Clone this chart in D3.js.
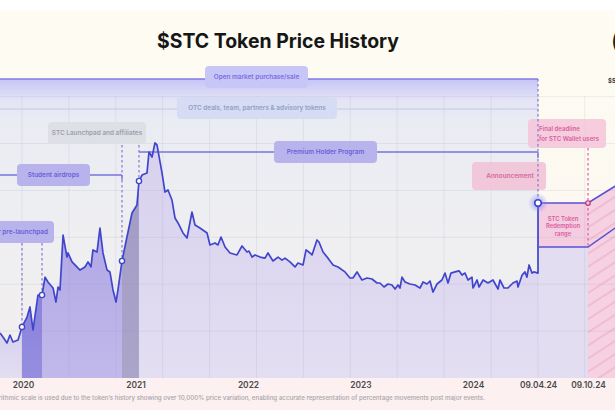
<!DOCTYPE html>
<html><head><meta charset="utf-8">
<script src="https://cdn.jsdelivr.net/npm/d3@7"></script>
<style>
html,body{margin:0;padding:0;background:#fff;overflow:hidden;}
svg{display:block;font-family:Inter,"Open Sans",sans-serif;}
</style></head>
<body><svg id="c" width="615" height="410"></svg>
<script>
// ---------------- DATA ----------------
const priceTimes = [
 2019.796,2019.822,2019.858,2019.884,2019.911,2019.956,2019.991,2020.036,2020.062,2020.089,
 2020.133,2020.169,2020.196,2020.222,2020.267,2020.293,2020.311,2020.329,2020.356,2020.391,
 2020.400,2020.436,2020.507,2020.551,2020.578,2020.604,2020.622,2020.658,2020.684,2020.711,
 2020.747,2020.773,2020.800,2020.827,2020.844,2020.880,2020.924,2020.969,2021.013,2021.031,
 2021.058,2021.102,2021.120,2021.147,2021.173,2021.191,2021.236,2021.262,2021.289,2021.324,
 2021.351,2021.378,2021.422,2021.458,2021.502,2021.529,2021.573,2021.636,2021.662,2021.707,
 2021.733,2021.760,2021.796,2021.840,2021.902,2021.947,2021.991,2022.009,2022.036,2022.062,
 2022.107,2022.151,2022.178,2022.222,2022.267,2022.302,2022.329,2022.373,2022.418,2022.444,
 2022.489,2022.516,2022.551,2022.569,2022.613,2022.631,2022.667,2022.711,2022.756,2022.800,
 2022.862,2022.907,2022.933,2022.969,2023.013,2023.058,2023.102,2023.147,2023.173,2023.209,
 2023.244,2023.280,2023.307,2023.333,2023.351,2023.369,2023.396,2023.440,2023.484,2023.529,
 2023.556,2023.591,2023.618,2023.644,2023.680,2023.724,2023.751,2023.778,2023.804,2023.840,
 2023.876,2023.902,2023.929,2023.956,2023.991,2024.000,2024.017,2024.025,2024.042,2024.062,
 2024.083,2024.104,2024.112,2024.129,2024.145,2024.166,2024.183,2024.187,2024.204,2024.216,
 2024.224,2024.233,2024.245,2024.253,2024.270];
const priceValues = [
 0.000282,0.000257,0.000224,0.000269,0.000229,0.000240,0.000324,0.000407,0.000513,0.000302,
 0.000676,0.000676,0.00102,0.000912,0.000794,0.000575,0.000813,0.000759,0.00269,0.00162,
 0.00178,0.00145,0.00120,0.00129,0.00145,0.00129,0.00191,0.00182,0.00316,0.00178,
 0.00120,0.00115,0.000759,0.000575,0.000759,0.00148,0.00257,0.00447,0.00537,0.00933,
 0.0107,0.0112,0.0182,0.0162,0.0224,0.0214,0.0112,0.00724,0.00759,0.00603,
 0.00398,0.00355,0.00282,0.00251,0.00457,0.00339,0.00316,0.00282,0.00214,0.00224,
 0.00214,0.00257,0.00204,0.00178,0.00170,0.00209,0.00182,0.00186,0.00162,0.00170,
 0.00162,0.00158,0.00178,0.00148,0.00162,0.00151,0.00158,0.00145,0.00129,0.00141,
 0.00135,0.00191,0.00178,0.00170,0.00240,0.00229,0.00182,0.00158,0.00135,0.00129,
 0.00115,0.00100,0.00100,0.00115,0.000955,0.00100,0.000977,0.000891,0.000891,0.000813,
 0.000871,0.000851,0.000776,0.000851,0.000794,0.00102,0.000912,0.000871,0.000851,0.000794,
 0.000912,0.000871,0.000933,0.000724,0.000871,0.000955,0.00112,0.000891,0.00112,0.00115,
 0.00118,0.00107,0.00112,0.000955,0.00102,0.000794,0.000955,0.000813,0.000955,0.000891,
 0.000955,0.000776,0.000955,0.000794,0.000794,0.000891,0.000933,0.000813,0.00107,0.00115,
 0.00102,0.00135,0.00112,0.00115,0.00112];
// key events (decimal years): pre-launchpad start/end, launchpad start/end, announcement, final deadline
const eventTimes = [2019.991, 2020.169, 2020.880, 2021.031, 2024.270, 2024.770];
const redemptionTimes = [2024.270, 2024.770, 2025.270];
const redemptionHigh = [0.00562, 0.00562, 0.0115];
const redemptionLow  = [0.00204, 0.00204, 0.00457];
const tickTimes  = [2020, 2021, 2022, 2023, 2024, 2024.270, 2024.770];
const tickLabels = ["2020","2021","2022","2023","2024","09.04.24","09.10.24"];
const phaseNames = ["Open market purchase/sale","OTC deals, team, partners & advisory tokens",
  "STC Launchpad and affiliates","Premium Holder Program","Student airdrops","Investor pre-launchpad"];
const titleText = "$STC Token Price History";
const footnote = "*Logarithmic scale is used due to the token\u2019s history showing over 10,000% price variation, enabling accurate representation of percentage movements post major events.";

// ---------------- SETUP ----------------
const W = 615, H = 410, baseY = 378;
const svg = d3.select("#c");
const defs = svg.append("defs");
const x = d3.scaleLinear().domain([2020, 2024, 2024.270, 2024.770, 2025.270]).range([23, 473, 538, 588, 638]);
const y = d3.scaleLog().domain([1e-4, 1e-1]).range([baseY, 78]);
const pts = priceTimes.map((t, i) => ({t, v: priceValues[i]}));
const red = redemptionTimes.map((t, i) => ({t, hi: redemptionHigh[i], lo: redemptionLow[i]}));

function lg(id, stops) {
  const g = defs.append("linearGradient").attr("id", id).attr("x1", 0).attr("y1", 0).attr("x2", 0).attr("y2", 1);
  stops.forEach(s => g.append("stop").attr("offset", s[0]).attr("stop-color", s[1]));
}
lg("bg", [[0, "#fefcf3"], [0.6, "#fcf8f1"], [1, "#fcf1f0"]]);
lg("band", [[0, "#c6c4f6"], [0.07, "#e4e4f5"], [0.14, "#eaecf3"], [0.55, "#efeff1"], [1, "#f3eeee"]]);
lg("aLight", [[0, "#d6d0ee"], [1, "#e3def1"]]);
lg("aMid", [[0, "#b1a8e6"], [1, "#c1b9ea"]]);
lg("aDark", [[0, "#8a82dc"], [1, "#958edf"]]);
lg("aGray", [[0, "#a29bc6"], [1, "#aba5c9"]]);
lg("aPost", [[0, "#d7d1ee"], [1, "#e3def1"]]);
const rg = defs.append("radialGradient").attr("id", "glow");
rg.append("stop").attr("offset", 0).attr("stop-color", "#7d79ff").attr("stop-opacity", 0.7);
rg.append("stop").attr("offset", 1).attr("stop-color", "#7d79ff").attr("stop-opacity", 0);
const pat = defs.append("pattern").attr("id", "hatch").attr("patternUnits", "userSpaceOnUse")
  .attr("width", 11).attr("height", 11).attr("patternTransform", "rotate(-33)");
pat.append("rect").attr("width", 11).attr("height", 11).attr("fill", "#f6d1e1");
pat.append("line").attr("x1", 0).attr("y1", 5).attr("x2", 11).attr("y2", 5)
  .attr("stroke", "#e9a7c6").attr("stroke-width", 1);

// ---------------- BACKGROUND ----------------
svg.append("rect").attr("width", W).attr("height", H).attr("fill", "url(#bg)");
svg.append("rect").attr("width", W).attr("height", 10).attr("fill", "#ffffff");
svg.append("rect").attr("y", baseY).attr("width", W).attr("height", H - baseY).attr("fill", "#fcf0f0");
const xEnd = x(eventTimes[4]);
svg.append("rect").attr("x", 0).attr("y", 79).attr("width", xEnd).attr("height", baseY - 79).attr("fill", "url(#band)");

// ---------------- AREAS ----------------
const area = d3.area().x(d => x(d.t)).y0(baseY).y1(d => y(d.v));
const bounds = [priceTimes[0], ...eventTimes.slice(0, 5)];
const fills = ["url(#aLight)", "url(#aDark)", "url(#aMid)", "url(#aGray)", "url(#aPost)"];
for (let i = 0; i < 5; i++) {
  const seg = pts.filter(d => d.t >= bounds[i] - 1e-6 && d.t <= bounds[i + 1] + 1e-6);
  svg.append("path").attr("d", area(seg)).attr("fill", fills[i]);
}
const redA = red.slice(0, 2);
svg.append("path").attr("d", d3.area().x(d => x(d.t)).y0(baseY).y1(d => y(d.lo))(redA)).attr("fill", "#e2ddf0");
svg.append("path").attr("d", d3.area().x(d => x(d.t)).y0(d => y(d.lo)).y1(d => y(d.hi))(redA)).attr("fill", "#f4cde0");
svg.append("path").attr("d", d3.area().x(d => x(d.t)).y0(baseY).y1(d => y(d.hi))(red.slice(1))).attr("fill", "url(#hatch)");

// ---------------- GRID ----------------
const gstep = 46.9;
const grid = svg.append("g").attr("stroke", "#8c8cb4").attr("stroke-opacity", 0.14).attr("stroke-width", 1);
d3.range(22, W, gstep).forEach(gx => grid.append("line").attr("x1", gx).attr("x2", gx).attr("y1", 96).attr("y2", baseY));
d3.range(baseY - gstep, 90, -gstep).forEach(gy => grid.append("line").attr("x1", 0).attr("x2", W).attr("y1", gy).attr("y2", gy));

// ---------------- PHASE LINES & BOXES ----------------
const purpleLine = "#7a73dd";
function hline(x1, x2, yy, col, w) {
  svg.append("line").attr("x1", x1).attr("x2", x2).attr("y1", yy).attr("y2", yy)
    .attr("stroke", col).attr("stroke-width", w);
}
hline(0, xEnd, 79, "#7f7ae6", 1.6);
hline(0, xEnd, 109, "#c1c9e8", 1.1);
hline(x(eventTimes[3]), xEnd, 152, purpleLine, 1.3);
svg.append("line").attr("x1", xEnd).attr("x2", xEnd).attr("y1", 152).attr("y2", 158).attr("stroke", purpleLine).attr("stroke-width", 1.3);
hline(0, x(eventTimes[2]), 175, purpleLine, 1.3);
svg.append("line").attr("x1", x(eventTimes[2])).attr("x2", x(eventTimes[2])).attr("y1", 175).attr("y2", 180).attr("stroke", purpleLine).attr("stroke-width", 1.3);

function dline(xx, y1, y2, col) {
  svg.append("line").attr("x1", xx).attr("x2", xx).attr("y1", y1).attr("y2", y2)
    .attr("stroke", col).attr("stroke-width", 1.2).attr("stroke-dasharray", "2.5,2.5");
}
const dashCol = "#8378cf";
[0, 1].forEach(k => dline(x(eventTimes[k]), 243, y(priceValues[priceTimes.indexOf(eventTimes[k])]), dashCol));
[2, 3].forEach(k => dline(x(eventTimes[k]), 145, y(priceValues[priceTimes.indexOf(eventTimes[k])]), dashCol));

function box(bx, by, bw, bh, fill, op) {
  svg.append("rect").attr("x", bx).attr("y", by).attr("width", bw).attr("height", bh)
    .attr("rx", 4).attr("fill", fill).attr("fill-opacity", op || 1);
}
function label(tx, ty, txt, col, anchor, size) {
  return svg.append("text").attr("x", tx).attr("y", ty).attr("text-anchor", anchor || "middle")
    .attr("font-size", size || 6.4).attr("font-weight", 600).attr("fill", col).text(txt);
}
box(205, 66, 103, 22, "#c8c6f6"); label(256.5, 79.3, phaseNames[0], "#7a6fe4");
box(177, 97, 160, 22, "#d5dcf3"); label(257, 110.3, phaseNames[1], "#90a0c8");
box(48, 122, 98, 22, "#dee0e6"); label(97, 135.3, phaseNames[2], "#9ba1ab");
box(274, 141, 103, 22, "#b8b3ec"); label(325.5, 154.3, phaseNames[3], "#6b5fd8");
box(17, 164, 73, 22, "#b8b3ec"); label(53.5, 177.3, phaseNames[4], "#6b5fd8");
box(-45, 221, 99, 22, "#b8b3ec"); label(48, 234.3, phaseNames[5], "#6b5fd8", "end");

box(472, 162, 74, 28, "#f2c2d7", 0.9); label(510, 178.3, "Announcement", "#d46ca0");
box(528, 119, 78, 29, "#f4c4d9", 0.85);
label(539, 131, "Final deadline", "#d95d9f", "start", 6.1);
label(539, 140.5, "for STC Wallet users", "#d95d9f", "start", 6.1);
dline(xEnd, 79, y(redemptionHigh[0]), dashCol);
dline(x(eventTimes[5]), 148, y(redemptionLow[1]), "#d8609e");

label(563, 221, "STC Token", "#d95d9f", "middle", 5.9);
label(563, 228.3, "Redemption", "#d95d9f", "middle", 5.9);
label(563, 235.6, "range", "#d95d9f", "middle", 5.9);

// ---------------- LINES ----------------
const lineCol = "#3f46cc";
const linePts = pts.concat([{t: redemptionTimes[0], v: redemptionHigh[0]}]);
svg.append("path").attr("d", d3.line().x(d => x(d.t)).y(d => y(d.v))(linePts))
  .attr("fill", "none").attr("stroke", lineCol).attr("stroke-width", 1.7).attr("stroke-linejoin", "round");
svg.append("path").attr("d", d3.line().x(d => x(d.t)).y(d => y(d.hi))(red))
  .attr("fill", "none").attr("stroke", "#5651d6").attr("stroke-width", 1.6);
svg.append("path").attr("d", d3.line().x(d => x(d.t)).y(d => y(d.lo))(red))
  .attr("fill", "none").attr("stroke", "#5651d6").attr("stroke-width", 1.6);

eventTimes.slice(0, 4).forEach(t => {
  const v = priceValues[priceTimes.indexOf(t)];
  svg.append("circle").attr("cx", x(t)).attr("cy", y(v)).attr("r", 2.6)
    .attr("fill", "#ffffff").attr("stroke", lineCol).attr("stroke-width", 1.4);
});
svg.append("circle").attr("cx", xEnd).attr("cy", y(redemptionHigh[0])).attr("r", 10).attr("fill", "url(#glow)");
svg.append("circle").attr("cx", xEnd).attr("cy", y(redemptionHigh[0])).attr("r", 3.3)
  .attr("fill", "#ffffff").attr("stroke", lineCol).attr("stroke-width", 1.7);
svg.append("circle").attr("cx", x(eventTimes[5])).attr("cy", y(redemptionHigh[1])).attr("r", 2.3)
  .attr("fill", "#f6c3da").attr("stroke", "#c9307c").attr("stroke-width", 1.2);

// ---------------- AXIS ----------------
const ax = svg.append("g").attr("transform", `translate(0,${baseY})`)
  .call(d3.axisBottom(x).tickValues(tickTimes).tickFormat((d, i) => tickLabels[i]).tickSize(0).tickPadding(4));
ax.select(".domain").remove();
ax.selectAll("text").attr("font-size", 8.4).attr("font-weight", 600).attr("fill", "#4a4a4a")
  .attr("font-family", "Inter, sans-serif");

// ---------------- TEXT ----------------
const title = svg.append("text").attr("x", 278).attr("y", 48).attr("text-anchor", "middle")
  .attr("font-size", 21).attr("font-weight", 700).attr("fill", "#161616").text(titleText);
const tl = title.node().getComputedTextLength();
title.attr("font-size", 21 * 242 / tl);
svg.append("text").attr("x", 611).attr("y", 48).attr("font-size", 21).attr("font-weight", 500).attr("fill", "#222").text("(");
svg.append("text").attr("x", 608).attr("y", 83).attr("font-size", 6).attr("font-weight", 700).attr("fill", "#333").text("$STC");
svg.append("text").attr("x", 485).attr("y", 400).attr("text-anchor", "end")
  .attr("font-size", 6.2).attr("font-weight", 500).attr("fill", "#a8a4a8").text(footnote);
</script>
</body></html>
